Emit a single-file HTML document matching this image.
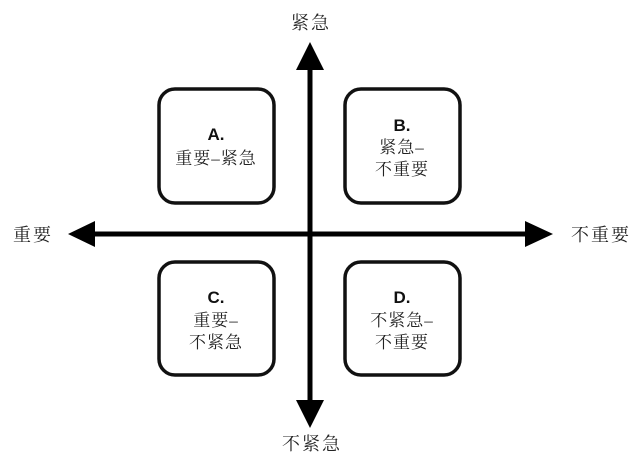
<!DOCTYPE html>
<html><head><meta charset="utf-8"><style>
body{margin:0;background:#fff;}
svg{display:block}
text{font-family:"Liberation Serif","Noto Serif CJK SC","Noto Sans CJK SC",serif;fill:#222;}
.b{font-family:"Liberation Sans","Noto Sans CJK SC",sans-serif;font-weight:bold;fill:#111}
</style></head><body>
<svg width="637" height="461" viewBox="0 0 637 461">
<g fill="none" stroke="#111" stroke-width="3.5">
<rect x="159" y="89" width="115" height="114" rx="16"/>
<rect x="345" y="89" width="115" height="114" rx="16"/>
<rect x="159" y="262" width="115" height="113" rx="16"/>
<rect x="345" y="262" width="115" height="113" rx="16"/>
</g>
<line x1="85" y1="234" x2="530" y2="234" stroke="#000" stroke-width="5"/>
<line x1="310" y1="65" x2="310" y2="405" stroke="#000" stroke-width="5"/>
<polygon points="68,234 95,221 95,247" fill="#000"/>
<polygon points="553,234 525,221 525,247" fill="#000"/>
<polygon points="310,42 296,70 324,70" fill="#000"/>
<polygon points="310,428 296,400 324,400" fill="#000"/>
<g font-size="18" text-anchor="middle" letter-spacing="2">
<text x="311" y="29">紧急</text>
<text x="33" y="241">重要</text>
<text x="601" y="241">不重要</text>
<text x="312" y="450">不紧急</text>
</g>
<g text-anchor="middle">
<text class="b" x="216" y="140" font-size="17">A.</text>
<text x="216" y="164" font-size="17" letter-spacing="1">重要–紧急</text>
<text class="b" x="402" y="131" font-size="17">B.</text>
<text x="402" y="153" font-size="17" letter-spacing="1">紧急–</text>
<text x="402" y="175" font-size="17" letter-spacing="1">不重要</text>
<text class="b" x="216" y="303" font-size="17">C.</text>
<text x="216" y="326" font-size="17" letter-spacing="1">重要–</text>
<text x="216" y="348" font-size="17" letter-spacing="1">不紧急</text>
<text class="b" x="402" y="303" font-size="17">D.</text>
<text x="402" y="326" font-size="17" letter-spacing="1">不紧急–</text>
<text x="402" y="348" font-size="17" letter-spacing="1">不重要</text>
</g>
</svg>
</body></html>
